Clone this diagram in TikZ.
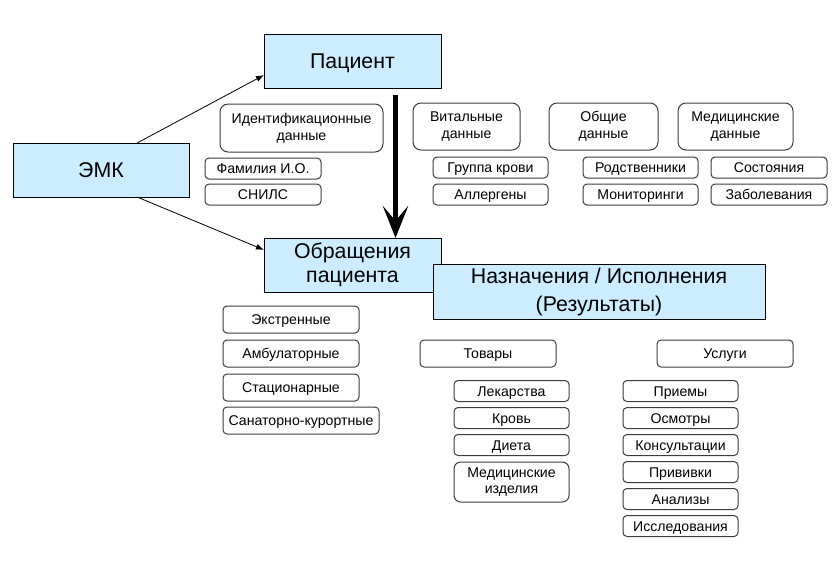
\documentclass[tikz,border=0pt]{standalone}
\usepackage{fontspec}
\setmainfont{Liberation Sans}
\usetikzlibrary{arrows.meta,calc}
\definecolor{boxblue}{RGB}{204,236,255}
\definecolor{edgegray}{RGB}{60,60,60}
\begin{document}
\begin{tikzpicture}[x=0.75pt,y=-0.75pt,
  sz/.style 2 args={minimum width=#1*0.75pt,minimum height=#2*0.75pt},
  bigbox/.style={draw=black,line width=0.75pt,fill=boxblue,inner sep=0pt,outer sep=0pt,align=center,font=\fontsize{16}{18}\selectfont},
  itembox/.style={draw=edgegray,line width=0.75pt,rounded corners=3pt,fill=white,inner sep=0pt,outer sep=0pt,align=center,font=\fontsize{10.6}{12.5}\selectfont},
  oneline/.style={itembox,text height=7.6pt,text depth=0pt},
  groupbox/.style={itembox,rounded corners=6pt},
  thinarrow/.style={draw=black,line width=0.6pt,-{Latex[length=6pt,width=4.5pt]}},
  bigarrow/.style={draw=black,line width=3.4pt,-{Stealth[length=24pt,width=19pt,inset=11pt]}}
]
\useasboundingbox (0,0) rectangle (838,569);

% main blue boxes
\node[bigbox,sz={176}{54},text height=11.5pt,text depth=0pt] (emk) at (101,170) {ЭМК};
\node[bigbox,sz={177}{54},text height=11.5pt,text depth=0pt] (pac) at (352.5,61) {Пациент};

% big arrow
\coordinate (bs) at ($(pac.south west)!0.743!(pac.south east)+(0,7)$);

\node[bigbox,sz={177}{54}] (obr) at (352.5,265) {Обращения\\пациента};
\draw[bigarrow] (bs) -- (bs |- obr.north);
\node[bigbox,sz={332}{55},font=\fontsize{16}{21}\selectfont] (naz) at (599,291.5) {Назначения / Исполнения\\(Результаты)};

% arrows from EMK
\draw[thinarrow] ($(emk.north west)!0.705!(emk.north east)$) -- ($(pac.north west)!0.76!(pac.south west)$);
\draw[thinarrow] ($(emk.south west)!0.705!(emk.south east)$) -- ($(obr.north west)!0.22!(obr.south west)$);

% patient data groups
\node[groupbox,sz={163}{48}] (ident) at (301.5,128) {Идентификационные\\данные};
\node[oneline,sz={116}{21}] (fam) at (263,168.5) {Фамилия И.О.};
\node[oneline,sz={116}{21}] (snils) at (263,194.5) {СНИЛС};

\node[groupbox,sz={107}{47}] (vit) at (466.5,126.5) {Витальные\\данные};
\node[groupbox,sz={109}{47}] (obsh) at (603.5,126.5) {Общие\\данные};
\node[groupbox,sz={115}{47}] (med) at (735.5,126.5) {Медицинские\\данные};

\node[oneline,sz={115}{21}] (grp) at (490.5,167.5) {Группа крови};
\node[oneline,sz={115}{21}] (allerg) at (490.5,194.5) {Аллергены};
\node[oneline,sz={115}{21}] (rodst) at (640.5,167.5) {Родственники};
\node[oneline,sz={115}{21}] (monit) at (640.5,194.5) {Мониторинги};
\node[oneline,sz={116}{21}] (sost) at (769,167.5) {Состояния};
\node[oneline,sz={116}{21}] (zabol) at (769,194.5) {Заболевания};

% visit types
\node[oneline,sz={136}{27}] (ekstr) at (291,319.5) {Экстренные};
\node[oneline,sz={136}{27}] (ambul) at (291,353.5) {Амбулаторные};
\node[oneline,sz={136}{27}] (stac) at (291,387.5) {Стационарные};
\node[oneline,sz={156}{27}] (sanat) at (301,420.5) {Санаторно-курортные};

% goods and services
\node[oneline,sz={136}{27}] (tovary) at (488,353.5) {Товары};
\node[oneline,sz={136}{27}] (uslugi) at (725,353.5) {Услуги};

\node[oneline,sz={115}{21}] (lek) at (511.5,391) {Лекарства};
\node[oneline,sz={115}{21}] (krov) at (511.5,418) {Кровь};
\node[oneline,sz={115}{21}] (dieta) at (511.5,445) {Диета};
\node[groupbox,sz={115}{40},rounded corners=5pt] (medizd) at (511.5,482) {Медицинские\\изделия};

\node[oneline,sz={115}{21}] (priem) at (680.5,391) {Приемы};
\node[oneline,sz={115}{21}] (osm) at (680.5,418) {Осмотры};
\node[oneline,sz={115}{21}] (kons) at (680.5,445) {Консультации};
\node[oneline,sz={115}{21}] (priv) at (680.5,472) {Прививки};
\node[oneline,sz={115}{21}] (anal) at (680.5,499) {Анализы};
\node[oneline,sz={115}{21}] (issl) at (680.5,526) {Исследования};
\end{tikzpicture}
\end{document}
